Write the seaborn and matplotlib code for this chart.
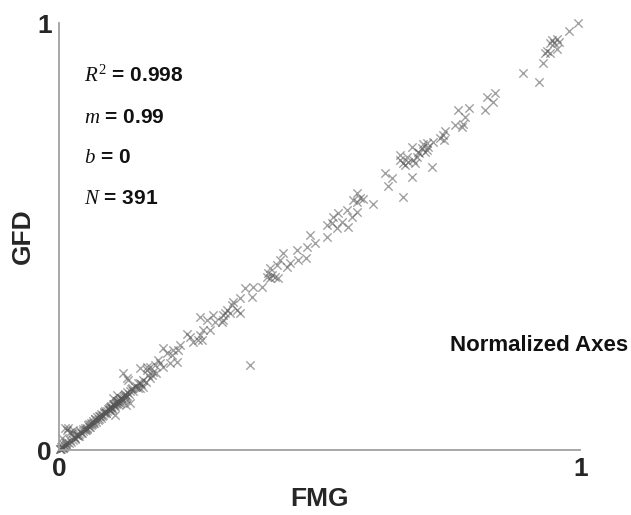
import seaborn as sns
import matplotlib.pyplot as plt
import pandas as pd

# values, normalized FMG (x) vs GFD (y)
fmg_high = [0.996, 0.979, 0.946, 0.956, 0.960, 0.950, 0.942, 0.937, 0.942, 0.956,
            0.933, 0.929, 0.891, 0.921, 0.821, 0.837, 0.833, 0.818, 0.766, 0.787,
            0.779, 0.760, 0.774, 0.775, 0.741, 0.737, 0.731, 0.739, 0.718, 0.706,
            0.699, 0.697, 0.708, 0.702, 0.689, 0.687, 0.679, 0.683, 0.678, 0.668,
            0.660, 0.655, 0.664, 0.716, 0.678, 0.660, 0.691, 0.706, 0.655, 0.670]
gfd_high = [1.000, 0.981, 0.960, 0.963, 0.955, 0.953, 0.953, 0.934, 0.930, 0.939,
            0.930, 0.906, 0.883, 0.862, 0.827, 0.836, 0.815, 0.796, 0.796, 0.801,
            0.780, 0.761, 0.756, 0.763, 0.747, 0.738, 0.731, 0.726, 0.721, 0.719,
            0.717, 0.707, 0.710, 0.698, 0.698, 0.686, 0.679, 0.672, 0.710, 0.686,
            0.672, 0.679, 0.667, 0.663, 0.639, 0.593, 0.696, 0.703, 0.691, 0.674]

fmg_mid = [0.626, 0.639, 0.631, 0.572, 0.564, 0.578, 0.583, 0.572, 0.603, 0.553,
           0.572, 0.562, 0.536, 0.526, 0.543, 0.534, 0.514, 0.524, 0.555, 0.514,
           0.482, 0.491, 0.476, 0.457, 0.474, 0.459, 0.430, 0.424, 0.418, 0.443,
           0.438, 0.405, 0.401, 0.409, 0.415, 0.420, 0.399, 0.405, 0.390, 0.372,
           0.357, 0.370, 0.347, 0.332, 0.347, 0.322, 0.315, 0.296, 0.299, 0.315,
           0.284, 0.276, 0.271, 0.274, 0.367]
gfd_mid = [0.649, 0.637, 0.618, 0.602, 0.585, 0.590, 0.588, 0.581, 0.576, 0.562,
           0.557, 0.546, 0.555, 0.546, 0.534, 0.520, 0.527, 0.532, 0.522, 0.499,
           0.504, 0.485, 0.475, 0.468, 0.450, 0.445, 0.461, 0.445, 0.433, 0.438,
           0.429, 0.426, 0.415, 0.410, 0.405, 0.403, 0.405, 0.403, 0.382, 0.382,
           0.379, 0.358, 0.356, 0.340, 0.321, 0.328, 0.316, 0.316, 0.300, 0.304,
           0.304, 0.281, 0.269, 0.258, 0.199]

fmg_lowmid = [0.334, 0.342, 0.328, 0.319, 0.313, 0.271, 0.290, 0.251, 0.246, 0.257,
              0.267, 0.232, 0.228, 0.219, 0.200, 0.207, 0.217, 0.194, 0.184, 0.175,
              0.200, 0.213, 0.226, 0.169, 0.155, 0.190, 0.169, 0.123, 0.131, 0.152,
              0.161, 0.136, 0.111, 0.117, 0.098, 0.140, 0.104,
              0.015, 0.025, 0.006, 0.107, 0.128, 0.133, 0.155, 0.178, 0.012, 0.021,
              0.017, 0.027]
gfd_lowmid = [0.347, 0.328, 0.321, 0.321, 0.300, 0.311, 0.281, 0.265, 0.272, 0.253,
              0.258, 0.246, 0.234, 0.234, 0.239, 0.227, 0.222, 0.204, 0.199, 0.194,
              0.194, 0.204, 0.206, 0.194, 0.192, 0.211, 0.187, 0.180, 0.169, 0.157,
              0.148, 0.110, 0.129, 0.110, 0.101, 0.145, 0.122,
              0.047, 0.040, 0.028, 0.082, 0.105, 0.164, 0.145, 0.176, 0.052, 0.042,
              0.052, 0.047]

fmg_band = [0.002, 0.004, 0.005, 0.007, 0.009, 0.011, 0.013, 0.014, 0.016, 0.019,
            0.021, 0.023, 0.026, 0.028, 0.031, 0.034, 0.036, 0.039, 0.041, 0.044,
            0.047, 0.049, 0.051, 0.054, 0.057, 0.059, 0.061, 0.064, 0.066, 0.069,
            0.071, 0.073, 0.076, 0.079, 0.081, 0.083, 0.086, 0.089, 0.091, 0.094,
            0.096, 0.099, 0.101, 0.103, 0.106, 0.109, 0.111, 0.113, 0.116, 0.118,
            0.121, 0.124, 0.126, 0.129, 0.131, 0.134, 0.137, 0.139, 0.142, 0.145,
            0.148, 0.151, 0.155, 0.158, 0.162, 0.166, 0.171, 0.175, 0.181, 0.186,
            0.030, 0.033, 0.038, 0.042, 0.046, 0.050, 0.053, 0.056, 0.058, 0.062,
            0.065, 0.068, 0.070, 0.074, 0.077, 0.080, 0.084, 0.087, 0.090, 0.093,
            0.095, 0.097, 0.100, 0.102, 0.105, 0.107, 0.110, 0.112, 0.114, 0.117,
            0.119, 0.122, 0.125, 0.127, 0.130, 0.010, 0.004, 0.008, 0.001, 0.013]
gfd_band = [0.003, 0.002, 0.008, 0.006, 0.012, 0.010, 0.016, 0.011, 0.019, 0.017,
            0.024, 0.020, 0.023, 0.031, 0.028, 0.036, 0.033, 0.037, 0.045, 0.041,
            0.044, 0.052, 0.048, 0.051, 0.060, 0.055, 0.064, 0.061, 0.063, 0.072,
            0.067, 0.077, 0.073, 0.080, 0.085, 0.080, 0.088, 0.092, 0.087, 0.097,
            0.094, 0.101, 0.098, 0.108, 0.104, 0.111, 0.115, 0.109, 0.118, 0.121,
            0.117, 0.126, 0.130, 0.124, 0.135, 0.131, 0.139, 0.144, 0.138, 0.147,
            0.150, 0.146, 0.158, 0.154, 0.165, 0.160, 0.175, 0.170, 0.184, 0.180,
            0.027, 0.035, 0.034, 0.039, 0.049, 0.046, 0.050, 0.058, 0.054, 0.059,
            0.068, 0.064, 0.073, 0.070, 0.079, 0.076, 0.082, 0.090, 0.086, 0.091,
            0.099, 0.095, 0.104, 0.097, 0.109, 0.103, 0.107, 0.116, 0.112, 0.114,
            0.123, 0.119, 0.121, 0.131, 0.127, 0.007, 0.008, 0.004, 0.002, 0.014]

stats = ['$R^{2}$ = 0.998', '$m$ = 0.99', '$b$ = 0', '$N$ = 391']
tick_vals = [0, 1]
tick_labels = ['0', '1']

df = pd.DataFrame({'FMG': fmg_high + fmg_mid + fmg_lowmid + fmg_band,
                   'GFD': gfd_high + gfd_mid + gfd_lowmid + gfd_band})

sns.set_style('white')
plt.rcParams['font.family'] = ['Liberation Sans', 'DejaVu Sans']
plt.rcParams['mathtext.fontset'] = 'custom'
plt.rcParams['mathtext.it'] = 'Liberation Serif:italic'
plt.rcParams['mathtext.rm'] = 'Liberation Serif'

fig = plt.figure(figsize=(6.31, 5.15), dpi=100)
ax = fig.add_axes([0.0935, 0.126, 0.826, 0.829])

sns.scatterplot(data=df, x='FMG', y='GFD', ax=ax, marker='x', color='#555555',
                alpha=0.55, s=36, linewidth=1.0, clip_on=False, legend=False)

ax.set_xlim(0, 1)
ax.set_ylim(0, 1)
ax.set_xticks(tick_vals)
ax.set_xticklabels(tick_labels)
ax.set_yticks(tick_vals)
ax.set_yticklabels(tick_labels)
ax.tick_params(direction='in', length=5, width=1, color='#999999',
               labelsize=19, pad=5)
for lab in ax.get_xticklabels() + ax.get_yticklabels():
    lab.set_fontweight('bold')

sns.despine(ax=ax)
for side in ['left', 'bottom']:
    ax.spines[side].set_color('#a0a0a0')
    ax.spines[side].set_linewidth(1.3)

ax.set_xlabel('FMG', fontsize=19, fontweight='bold', labelpad=4)
ax.set_ylabel('GFD', fontsize=19, fontweight='bold', labelpad=2)

for i, s in enumerate(stats):
    ax.text(0.048, 0.862 - i * 0.095, s, transform=ax.transAxes, fontsize=15,
            fontweight='bold', color='#111111', va='baseline', ha='left')

ax.text(1.092, 0.246, 'Normalized Axes', transform=ax.transAxes, fontsize=16,
        fontweight='bold', color='#111111', ha='right', va='center')

fig.savefig('out.png', dpi=100)
